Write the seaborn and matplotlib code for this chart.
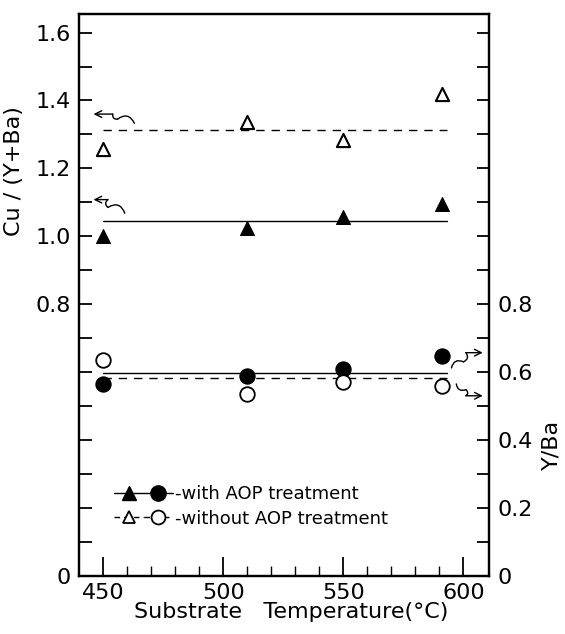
import numpy as np
import pandas as pd
import seaborn as sns
import matplotlib.pyplot as plt
from matplotlib.lines import Line2D
from matplotlib.legend_handler import HandlerTuple

# data
temps = [450, 510, 550, 591]
cu_with = [1.00, 1.024, 1.056, 1.095]       # filled triangles, Cu/(Y+Ba)
cu_without = [1.257, 1.338, 1.285, 1.42]    # open triangles
yba_with = [0.564, 0.588, 0.608, 0.646]     # filled circles, Y/Ba
yba_without = [0.636, 0.534, 0.570, 0.558]  # open circles

line_x = [450, 593]
cu_with_level = 1.046
cu_without_level = 1.313
yba_with_level = 0.598
yba_without_level = 0.582

sns.set_style("ticks")
plt.rcParams['font.family'] = ['DejaVu Sans']
plt.rcParams['text.color'] = 'black'
plt.rcParams['axes.labelcolor'] = 'black'
plt.rcParams['xtick.color'] = 'black'
plt.rcParams['ytick.color'] = 'black'
plt.rcParams['axes.edgecolor'] = 'black'

fig = plt.figure(figsize=(5.65, 6.34), dpi=100)
ax = fig.add_axes([0.140, 0.092, 0.725, 0.886])
ax2 = ax.twinx()

ymax = 1.655
for a in (ax, ax2):
    a.set_xlim(440, 610.5)
    a.set_ylim(0, ymax)

def levels(x, level):
    return pd.DataFrame({"x": x, "y": [level] * len(x)})

# mean lines
sns.lineplot(data=levels(line_x, cu_with_level), x="x", y="y", ax=ax,
             color="black", lw=1.0)
sns.lineplot(data=levels(line_x, cu_without_level), x="x", y="y", ax=ax,
             color="black", lw=1.0, linestyle=(0, (6, 5)))
sns.lineplot(data=levels(line_x, yba_with_level), x="x", y="y", ax=ax2,
             color="black", lw=1.0)
sns.lineplot(data=levels(line_x, yba_without_level), x="x", y="y", ax=ax2,
             color="black", lw=1.0, linestyle=(0, (6, 5)))

# points
sns.scatterplot(x=temps, y=cu_with, ax=ax, marker="^", s=100,
                color="black", edgecolor="black", linewidth=0.8, zorder=3)
sns.scatterplot(x=temps, y=cu_without, ax=ax, marker="^", s=90,
                facecolor="white", edgecolor="black", linewidth=1.5, zorder=3)
sns.scatterplot(x=temps, y=yba_with, ax=ax2, marker="o", s=120,
                color="black", edgecolor="black", linewidth=0.8, zorder=3)
sns.scatterplot(x=temps, y=yba_without, ax=ax2, marker="o", s=110,
                facecolor="white", edgecolor="black", linewidth=1.3, zorder=3)

# ticks
ticks = np.round(np.arange(0, 1.61, 0.1), 1)
left_labels = {0.0: "0", 0.8: "0.8", 1.0: "1.0", 1.2: "1.2", 1.4: "1.4", 1.6: "1.6"}
right_labels = {0.0: "0", 0.2: "0.2", 0.4: "0.4", 0.6: "0.6", 0.8: "0.8"}
ax.set_yticks(ticks)
ax.set_yticklabels([left_labels.get(t, "") for t in ticks])
ax2.set_yticks(ticks)
ax2.set_yticklabels([right_labels.get(t, "") for t in ticks])
ax.set_xticks([450, 500, 550, 600])
ax.set_xticks(np.arange(460, 610, 10), minor=True)

ax.tick_params(axis="y", direction="in", length=9, width=1.3, labelsize=16, pad=6)
ax2.tick_params(axis="y", direction="in", length=9, width=1.3, labelsize=16, pad=6)
ax.tick_params(axis="x", which="major", direction="in", length=14, width=1.3,
               labelsize=16, pad=5)
ax.tick_params(axis="x", which="minor", direction="in", length=7, width=1.0)
ax2.tick_params(axis="x", which="both", length=0)

for a in (ax, ax2):
    for s in a.spines.values():
        s.set_linewidth(1.6)
        s.set_visible(True)

ax.set_xlabel("Substrate   Temperature(°C)", fontsize=16)
ax.xaxis.set_label_coords(0.517, -0.047)
ax.set_ylabel("Cu / (Y+Ba)", fontsize=16)
ax.yaxis.set_label_coords(-0.135, 0.72)
ax2.set_ylabel("Y/Ba", fontsize=16, rotation=90)
ax2.yaxis.set_label_coords(1.13, 0.232)

# curly arrows pointing to the relevant axis
def squiggle(a, start, bend_pt, knee, tip, rad):
    a.annotate("", xy=bend_pt, xytext=start,
               arrowprops=dict(arrowstyle="-", lw=1.0, color="black",
                               shrinkA=0, shrinkB=0,
                               connectionstyle="arc3,rad=%f" % rad))
    a.annotate("", xy=knee, xytext=bend_pt,
               arrowprops=dict(arrowstyle="-", lw=1.0, color="black",
                               shrinkA=0, shrinkB=0,
                               connectionstyle="arc3,rad=%f" % -rad))
    a.annotate("", xy=tip, xytext=knee,
               arrowprops=dict(arrowstyle="->", lw=1.0, color="black",
                               shrinkA=0, shrinkB=0, mutation_scale=12))

squiggle(ax, (463, 1.333), (456, 1.345), (454, 1.36), (446, 1.36), 0.6)
squiggle(ax, (459, 1.068), (452, 1.085), (452, 1.108), (446, 1.108), 0.6)
squiggle(ax2, (595, 0.612), (600, 0.630), (601, 0.657), (608, 0.657), -0.6)
squiggle(ax2, (597, 0.565), (601, 0.548), (601, 0.530), (608, 0.530), 0.6)

# legend
h_with = (Line2D([], [], color="black", lw=1.0, marker="^", markersize=10),
          Line2D([], [], color="black", lw=1.0, marker="o", markersize=11))
h_without = (Line2D([], [], color="black", lw=1.0, ls=(0, (4, 3)), marker="^",
                    markersize=9, markerfacecolor="white", markeredgewidth=1.3),
             Line2D([], [], color="black", lw=1.0, ls=(0, (4, 3)), marker="o",
                    markersize=10, markerfacecolor="white", markeredgewidth=1.3))
ax.legend([h_with, h_without], ["-with AOP treatment", "-without AOP treatment"],
          handler_map={tuple: HandlerTuple(ndivide=None, pad=0)},
          loc="upper left", bbox_to_anchor=(0.045, 0.19), frameon=False,
          fontsize=13, handlelength=3.3, handletextpad=0.1, labelspacing=0.35)

fig.savefig("out.png", dpi=100)
